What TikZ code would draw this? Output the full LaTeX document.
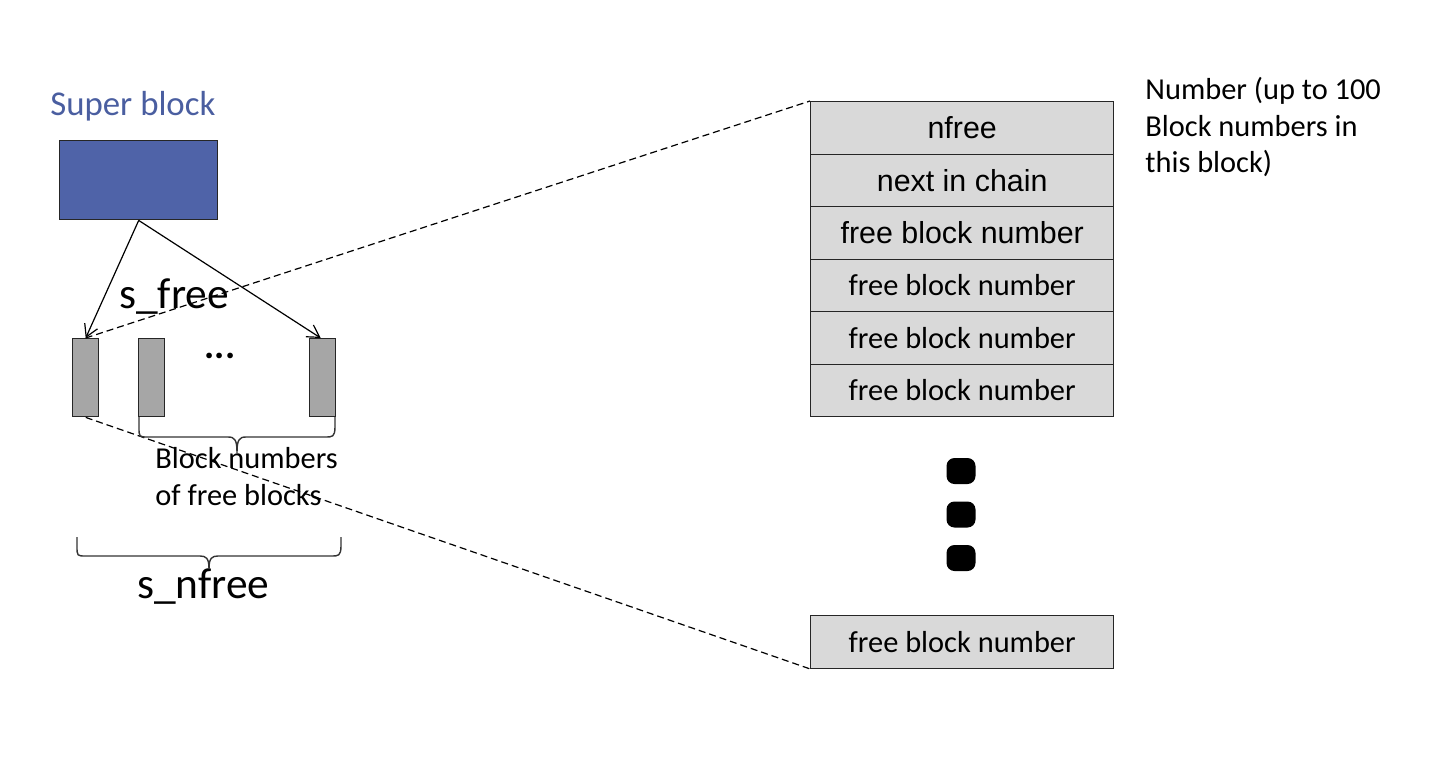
\documentclass[tikz,border=0pt]{standalone}
\usepackage{fontspec}
\setmainfont{Carlito}
\newfontfamily\arialfont{Liberation Sans}
\usetikzlibrary{arrows.meta}
\definecolor{sbblue}{HTML}{4F63A8}
\definecolor{sbtext}{HTML}{4A5EA0}
\definecolor{smallgray}{HTML}{A6A6A6}
\definecolor{rowgray}{HTML}{D9D9D9}
\begin{document}
\begin{tikzpicture}[x=0.5pt,y=-0.5pt,
  box/.style={draw=black!85, line width=0.7pt, inner sep=0pt, anchor=north west},
  blockbox/.style={box, fill=smallgray, minimum width=13pt, minimum height=39pt},
  rowbox/.style={box, fill=rowgray, minimum width=151.5pt, minimum height=26.25pt, font=\fontsize{15.2}{18}\selectfont},
  arialrow/.style={rowbox, font=\arialfont\fontsize{15.2}{18}\selectfont},
  lbl/.style={inner sep=0pt, anchor=base west, font=\fontsize{15.2}{18}\selectfont},
  biglbl/.style={inner sep=0pt, anchor=base west, font=\fontsize{21.7}{26}\selectfont},
  arr/.style={line width=0.6pt, -{Straight Barb[length=6pt,width=7pt]}},
  dashline/.style={line width=0.6pt, dash pattern=on 3.5pt off 2pt},
  bracestyle/.style={line width=0.7pt, draw=black!80},
  dotsq/.style={rectangle, rounded corners=4pt, fill=black, minimum width=14.5pt, minimum height=13pt, inner sep=0pt}
]
\useasboundingbox (0,0) rectangle (1452,778);

% super block
\node[inner sep=0pt, anchor=base west, text=sbtext, font=\fontsize{17.4}{20}\selectfont] (sbl) at (50,115) {Super block};
\node[box, fill=sbblue, minimum width=79pt, minimum height=39.5pt] (sb) at (59,140) {};

% small blocks
\node[blockbox] (b1) at (72,338) {};
\node[blockbox] (b2) at (138,338) {};
\node[blockbox] (b3) at (309,338) {};
\node[inner sep=0pt, anchor=base, font=\bfseries\fontsize{19}{20}\selectfont] (hdots) at (220,358) {...};

% labels
\node[biglbl] (sfree) at (119,308) {s\_free};
\node[biglbl] (snfree) at (137,598) {s\_nfree};
\node[lbl] (bn1) at (155,468) {Block numbers};
\node[lbl] (bn2) at (155,505) {of free blocks};

% table
\node[arialrow] (r1) at (810,101) {nfree};
\node[arialrow] (r2) at (810,153.5) {next in chain};
\node[arialrow] (r3) at (810,206) {free block number};
\node[rowbox] (r4) at (810,258.5) {free block number};
\node[rowbox] (r5) at (810,311) {free block number};
\node[rowbox] (r6) at (810,363.5) {free block number};
\node[rowbox] (rl) at (810,615) {free block number};

\node[dotsq] (d1) at (961,471) {};
\node[dotsq] (d2) at (961,514.5) {};
\node[dotsq] (d3) at (961,558) {};

% right text
\node[lbl] (t1) at (1145,99) {Number (up to 100};
\node[lbl] (t2) at (1145,136) {Block numbers in};
\node[lbl] (t3) at (1145,172) {this block)};

% arrows
\draw[arr] (sb.south) -- (b1.north);
\draw[arr] (sb.south) -- ([xshift=-1pt]b3.north);

% dashed lines
\draw[dashline] (b1.north) -- (r1.north west);
\draw[dashline] (b1.south) -- (rl.south west);

% braces (Office style)
\coordinate (tbl) at (139,417);
\coordinate (tbr) at (335,417);
\draw[bracestyle] (tbl) -- ++(0,10) .. controls ++(0,10) and ++(-9,0) .. ++(9,10)
  -- (228,437) .. controls (235,437) and (237,440) .. (237,453)
  .. controls (237,440) and (239,437) .. (246,437) -- (326,437)
  .. controls (332,437) and (335,437) .. (335,427) -- (tbr);
\coordinate (bbl) at (77,537);
\coordinate (bbr) at (341,537);
\draw[bracestyle] (bbl) -- ++(0,9) .. controls ++(0,10) and ++(-9,0) .. ++(9,10)
  -- (200,556) .. controls (206,556) and (209,558) .. (209,569)
  .. controls (209,558) and (212,556) .. (218,556) -- (332,556)
  .. controls (338,556) and (341,556) .. (341,546) -- (bbr);
\end{tikzpicture}
\end{document}
